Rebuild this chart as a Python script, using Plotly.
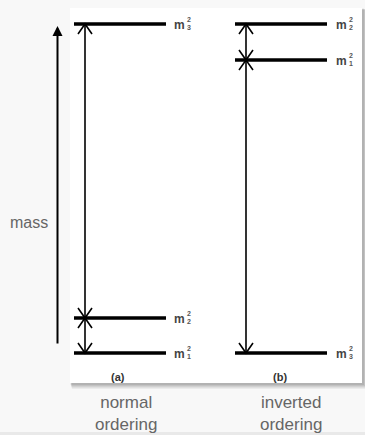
import plotly.graph_objects as go

# ---- data (arbitrary mass^2 units) ----
normal_names = ["1", "2", "3"]
normal_levels = [0.0, 1.0, 9.4]          # m1^2, m2^2, m3^2 (normal ordering)
inverted_names = ["1", "2", "3"]
inverted_levels = [8.37, 9.4, 0.0]       # m1^2, m2^2, m3^2 (inverted ordering)
panel_tags = ["(a)", "(b)"]
panel_titles = ["normal<br>ordering", "inverted<br>ordering"]
axis_label = "mass"

W, H = 365, 435
PX = 35.0                     # pixels per unit
Y0 = 353.0                    # pixel row of zero
def v(p):                     # pixel row -> data value
    return (Y0 - p) / PX
def py(p):                    # pixel row -> paper y
    return 1 - p / H

FONT = "Liberation Sans, Arial, sans-serif"
fig = go.Figure()

# card background and shadow
shapes = []
for i, op in enumerate([0.05, 0.05, 0.06, 0.07, 0.08]):
    off = 6 - i
    shapes.append(dict(type="rect", xref="x", yref="paper",
                       x0=70 + off * 0.3, x1=362 + off, y0=py(383 + off), y1=py(8 + off * 0.3),
                       fillcolor=f"rgba(0,0,0,{op})", line=dict(width=0), layer="below"))
shapes.append(dict(type="rect", xref="x", yref="paper", x0=70, x1=362, y0=py(383), y1=py(8),
                   fillcolor="white", line=dict(width=0), layer="below"))
shapes.append(dict(type="rect", xref="paper", yref="paper", x0=0, x1=1, y0=0, y1=py(432),
                   fillcolor="#e9e9e9", line=dict(width=0), layer="below"))

panels = [
    dict(levels=normal_levels, names=normal_names, x0=74, x1=166, xa=85, lx=179, tagx=118, titx=126),
    dict(levels=inverted_levels, names=inverted_names, x0=235, x1=327, xa=246, lx=341, tagx=280, titx=291),
]

hw, hh = 7, 10   # chevron half-width and height (pixels)
for k, p in enumerate(panels):
    lv = p["levels"]
    # level lines
    lx, ly = [], []
    for val in lv:
        lx += [p["x0"], p["x1"], None]
        ly += [val, val, None]
    fig.add_trace(go.Scatter(x=lx, y=ly, mode="lines", line=dict(color="black", width=3.5),
                             hoverinfo="skip", showlegend=False))
    # vertical double-headed arrows between consecutive sorted levels
    srt = sorted(lv)
    ax, ay = [], []
    xa = p["xa"]
    for lo, hi in zip(srt[:-1], srt[1:]):
        ax += [xa, xa, None]
        ay += [lo, hi, None]
        d = hh / PX
        # up chevron at hi
        ax += [xa - hw, xa, xa + hw, None]
        ay += [hi - d, hi, hi - d, None]
        # down chevron at lo
        ax += [xa - hw, xa, xa + hw, None]
        ay += [lo + d, lo, lo + d, None]
    fig.add_trace(go.Scatter(x=ax, y=ay, mode="lines", line=dict(color="black", width=1.6),
                             hoverinfo="skip", showlegend=False))
    # labels m_i^2
    anns = []
    for name, val in zip(p["names"], lv):
        anns.append(dict(x=p["lx"], y=val - 1 / PX, xref="x", yref="y", text="<b>m</b>",
                         font=dict(family=FONT, size=12, color="#444")))
        anns.append(dict(x=p["lx"] + 10, y=val + 4.5 / PX, xref="x", yref="y", text="<b>2</b>",
                         font=dict(family=FONT, size=7, color="#555")))
        anns.append(dict(x=p["lx"] + 10, y=val - 3.5 / PX, xref="x", yref="y", text="<b>" + name + "</b>",
                         font=dict(family=FONT, size=7, color="#555")))
    anns.append(dict(x=p["tagx"], y=py(377), xref="x", yref="paper", text="<b>" + panel_tags[k] + "</b>",
                     font=dict(family=FONT, size=11, color="#333")))
    anns.append(dict(x=p["titx"], y=py(413.5), xref="x", yref="paper", text=panel_titles[k],
                     align="center", font=dict(family=FONT, size=17, color="#666")))
    for a in anns:
        fig.add_annotation(showarrow=False, xanchor="center", yanchor="middle", **a)

# mass arrow
fig.add_annotation(x=57.5, y=v(26), ax=57.5, ay=v(345), xref="x", yref="y",
                   axref="x", ayref="y", showarrow=True, arrowhead=2, arrowsize=1,
                   arrowwidth=2, arrowcolor="black", text="")
fig.add_annotation(x=29, y=py(222), xref="x", yref="paper", text=axis_label, showarrow=False,
                   xanchor="center", yanchor="middle",
                   font=dict(family=FONT, size=16, color="#666"))

fig.update_layout(
    width=W, height=H, margin=dict(l=0, r=0, t=0, b=0),
    paper_bgcolor="#f8f8f8", plot_bgcolor="rgba(0,0,0,0)",
    shapes=shapes, showlegend=False,
    xaxis=dict(range=[0, W], visible=False, fixedrange=True),
    yaxis=dict(range=[v(H), v(0)], visible=False, fixedrange=True),
)
fig.write_html("out.html", config={"displayModeBar": False})
